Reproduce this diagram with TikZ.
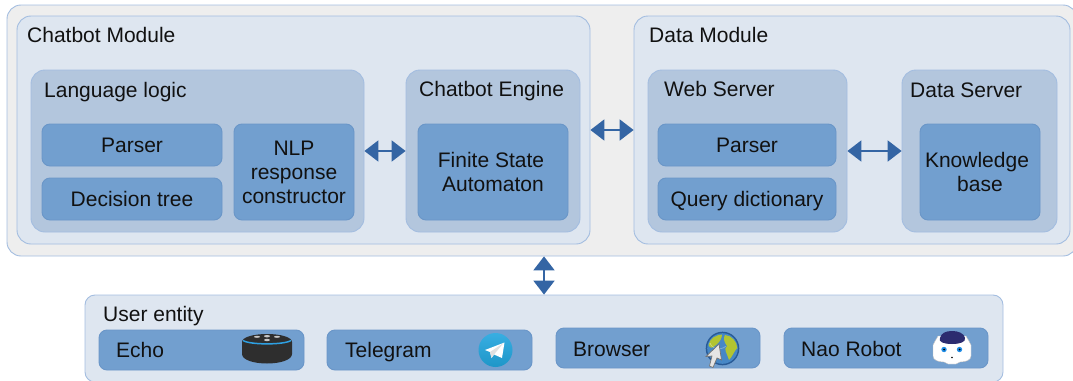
\documentclass[tikz,border=0pt]{standalone}
\usepackage{fontspec}
\setmainfont{Liberation Sans}
\usetikzlibrary{arrows.meta}
\definecolor{outerfill}{HTML}{EEEEEE}
\definecolor{modfill}{HTML}{DEE6F0}
\definecolor{subfill}{HTML}{B3C6DD}
\definecolor{leaffill}{HTML}{729FCF}
\definecolor{edgeblue}{HTML}{A3BDE0}
\definecolor{leafedge}{HTML}{6A96C8}
\definecolor{arrowblue}{HTML}{3465A4}
\definecolor{txt}{HTML}{111111}
\tikzset{
  anybox/.style={rectangle,inner sep=0pt,outer sep=0pt,line width=0.9pt,align=center,text=txt,font=\fontsize{21}{24}\selectfont},
  outerbox/.style={anybox,draw=edgeblue,fill=outerfill,rounded corners=14pt},
  modbox/.style={anybox,draw=edgeblue,fill=modfill,rounded corners=14pt},
  subbox/.style={anybox,draw=edgeblue,fill=subfill,rounded corners=14pt},
  leafbox/.style={anybox,draw=leafedge,fill=leaffill,rounded corners=8pt},
  oneline/.style={text height=15pt,text depth=0pt},
  title/.style={anchor=base west,inner sep=0pt,text=txt,font=\fontsize{21}{24}\selectfont},
  biarrow/.style={draw=arrowblue,line width=2pt,{Triangle[length=14pt,width=21pt,fill=arrowblue]}-{Triangle[length=14pt,width=21pt,fill=arrowblue]},shorten <=0.4pt,shorten >=0.4pt},
}
\begin{document}
\begin{tikzpicture}[x=1pt,y=-1pt]
\useasboundingbox (0,0) rectangle (1073,380);
% containers
\node[outerbox,minimum width=1070pt,minimum height=251pt] (outer) at (542,130.5) {};
\node[modbox,minimum width=573pt,minimum height=228pt] (chatbot) at (303.5,130) {};
\node[modbox,minimum width=436pt,minimum height=228pt] (data) at (852,130) {};
\node[subbox,minimum width=333pt,minimum height=162pt] (logic) at (197.5,151) {};
\node[subbox,minimum width=174pt,minimum height=162pt] (engine) at (493,151) {};
\node[subbox,minimum width=199pt,minimum height=162pt] (web) at (747.5,151) {};
\node[subbox,minimum width=155pt,minimum height=162pt] (dsrv) at (979.5,151) {};
% leaves
\node[leafbox,oneline,minimum width=180pt,minimum height=42pt] (parser1) at (132,145) {Parser};
\node[leafbox,oneline,minimum width=180pt,minimum height=42pt] (tree) at (132,199) {Decision tree};
\node[leafbox,minimum width=120pt,minimum height=96pt] (nlp) at (294,172) {NLP\\response\hspace*{6pt}\\constructor};
\node[leafbox,minimum width=150pt,minimum height=96pt] (fsa) at (493,172) {Finite State\hspace*{4pt}\\Automaton};
\node[leafbox,oneline,minimum width=178pt,minimum height=42pt] (parser2) at (747,145) {Parser};
\node[leafbox,oneline,minimum width=178pt,minimum height=42pt] (query) at (747,199) {Query dictionary};
\node[leafbox,minimum width=120pt,minimum height=96pt] (kb) at (980,172) {Knowledge\hspace*{6pt}\\base};
% titles
\node[title] (tchat) at (27,42) {Chatbot Module};
\node[title] (tdata) at (649,42) {Data Module};
\node[title] (tlogic) at (44,97) {Language logic};
\node[title] (tengine) at (419,96.5) {Chatbot Engine};
\node[title] (tweb) at (664,96.5) {Web Server};
\node[title] (tdsrv) at (910,97) {Data Server};
% user entity
\node[modbox,rounded corners=10pt,minimum width=918pt,minimum height=87pt] (user) at (544,338.5) {};
\node[title] (tuser) at (103,321) {User entity};
\node[leafbox,minimum width=205pt,minimum height=40pt] (echo) at (201.5,350) {};
\node[leafbox,minimum width=205pt,minimum height=40pt] (tele) at (429.5,350) {};
\node[leafbox,minimum width=204pt,minimum height=40pt] (brow) at (658,348) {};
\node[leafbox,minimum width=204pt,minimum height=40pt] (nao) at (886,348) {};
\node[title] (techo) at (116,357) {Echo};
\node[title] (ttele) at (345,357) {Telegram};
\node[title] (tbrow) at (573,356) {Browser};
\node[title] (tnao) at (801,356) {Nao Robot};
% connectors
\draw[biarrow] (logic.east) -- (engine.west);
\draw[biarrow] (chatbot.east) -- (data.west);
\draw[biarrow] (web.east) -- (dsrv.west);
\draw[biarrow] (user.north) -- (user.north |- outer.south);
% Echo icon
\fill[black!82] (242,342) .. controls (242,337) and (254,334) .. (267,334) .. controls (280,334) and (292,337) .. (292,342) -- (292,354) .. controls (292,360) and (280,363.5) .. (267,363.5) .. controls (254,363.5) and (242,360) .. (242,354) -- cycle;
\draw[color={rgb,255:red,46;green,160;blue,226},line width=1.5pt] (243,340.5) .. controls (250,345) and (284,345) .. (291,340.5);
\fill[black!22] (257,336.8) ellipse (3pt and 1pt) (267,336.2) ellipse (3pt and 1.2pt) (277,336.8) ellipse (3pt and 1pt) (267,340) ellipse (3pt and 1.2pt);
% Telegram icon
\shade[top color={rgb,255:red,56;green,174;blue,226},bottom color={rgb,255:red,30;green,150;blue,200}] (495.5,350) circle (17pt);
\fill[white] (485,350) -- (504.5,342.5) -- (502,358) -- (494,354.5) -- (491.5,358) -- (490,352) -- cycle;
\fill[black!12] (490,352) -- (503.5,343) -- (494,354.5) -- (491.5,358) -- cycle;
% Browser icon
\fill[color={rgb,255:red,40;green,90;blue,150}] (722.5,348.5) circle (16.8pt);
\fill[color={rgb,255:red,70;green,135;blue,198}] (722.5,348.5) circle (15.3pt);
\fill[color={rgb,255:red,178;green,196;blue,50}] (708.5,345) .. controls (710,338) and (716,335) .. (722,334.5) .. controls (722,338) and (720,342) .. (716,345) .. controls (713,348) and (710,349) .. (708.5,345) -- cycle;
\fill[color={rgb,255:red,178;green,196;blue,50}] (725,335) .. controls (732,335.5) and (737,342) .. (737.3,348) .. controls (734,351) and (733,356) .. (729,360) .. controls (727,353) and (723,349) .. (727,346) .. controls (724,342) and (723,338) .. (725,335) -- cycle;
\draw[white,opacity=.35,line width=.7pt] (718,345) ++(-8,-2) arc (190:320:9pt and 7pt);
\filldraw[fill=black!10,draw=black!55,line width=0.7pt] (719,344) -- (721.5,360) -- (717,358) -- (713,367.5) -- (709.5,366) -- (712,356) -- (706,356.5) -- cycle;
% Nao icon
\filldraw[fill=white,draw=black!25,line width=0.4pt] (938,336) -- (966,336) .. controls (968,340) and (970,342) .. (971,345) -- (971,356) .. controls (971,360) and (966,362) .. (960,362) -- (956,364) -- (948,364) -- (944,362) .. controls (938,362) and (933,360) .. (933,356) -- (933,345) .. controls (934,342) and (936,340) .. (938,336) -- cycle;
\fill[color={rgb,255:red,44;green,44;blue,112}] (940,338) .. controls (941,333) and (946,331) .. (952,331) .. controls (958,331) and (964,333) .. (965,338) .. controls (966,342) and (960,344) .. (952,344) .. controls (944,344) and (938,342) .. (940,338) -- cycle;
\fill[color={rgb,255:red,30;green,140;blue,230}] (944,349.5) circle (2.7pt) (959.5,349.5) circle (2.7pt);
\fill[black] (944,349.5) circle (1pt) (959.5,349.5) circle (1pt) (952,357.5) circle (0.9pt);
\end{tikzpicture}
\end{document}
